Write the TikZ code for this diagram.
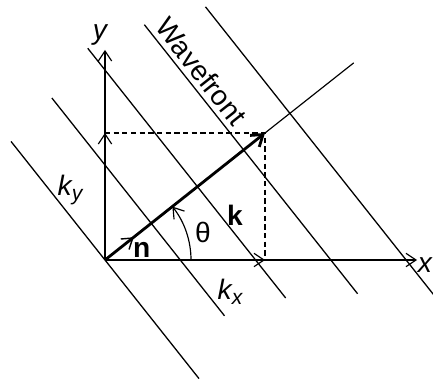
\documentclass[tikz,border=0pt]{standalone}
\usepackage{fontspec}
\setmainfont{Liberation Sans}
\usetikzlibrary{arrows.meta, positioning, calc}

\begin{document}
\begin{tikzpicture}[
    thinln/.style = {line width=0.5pt},
    barb/.style   = {-{Straight Barb[length=1.5mm,width=2mm]}},
    front/.style  = {line width=0.55pt},
    proj/.style   = {line width=0.5pt, dash pattern=on 2.2pt off 1.5pt},
    lbl/.style    = {font=\fontsize{12}{14}\selectfont, inner sep=1pt}
  ]
  \useasboundingbox (-1.575,-1.815) rectangle (4.92,3.9);

  % ----------------------------------------------------------------
  % Origin, axis ends and the wave vector k (theta = 38.4 deg)
  % ----------------------------------------------------------------
  \coordinate (O)    at (0,0);
  \coordinate (xend) at (4.68,0);
  \coordinate (yend) at (0,3.15);
  \coordinate (kx)   at (2.4,0);
  \coordinate (ky)   at (0,1.905);
  \coordinate (K)    at (2.4,1.905);
  \coordinate (kfar) at (38.4:4.76);
  \coordinate (nend) at (38.4:0.55);

  % ----------------------------------------------------------------
  % Wavefronts: lines normal to k, equally spaced along k
  % ----------------------------------------------------------------
  \begin{scope}[rotate=38.4]
    \foreach \idx/\dist/\hi/\lo in {
        1/0/2.27/-2.27,     2/0.885/2.4/-1.77,  3/1.77/2.65/-2.13,
        4/2.655/2.4/-2.75,  5/3.54/2.04/-3.48}{
      \coordinate (w\idx a) at (\dist,\hi);
      \coordinate (w\idx b) at (\dist,\lo);
    }
  \end{scope}
  \foreach \idx in {1,2,3,5}{
    \draw[front] (w\idx a) -- (w\idx b);
  }
  \draw[front] (w4a) -- (w4b)
        node[lbl, pos=0.21, sloped, above=1pt] (wlbl) {Wavefront};

  % ----------------------------------------------------------------
  % Axes and components
  % ----------------------------------------------------------------
  \draw[thinln, barb] (O) -- (xend);
  \draw[thinln, barb] (O) -- (yend);
  \draw[thinln, barb] (O) -- (kx);
  \draw[thinln, barb] (O) -- (ky);
  \draw[proj] (ky) -- (K) -- (kx);

  \node[lbl] (xlbl)  at (4.8,-0.075)   {\itshape x};
  \node[lbl] (ylbl)  at (-0.075,3.375) {\itshape y};
  \node[lbl] (kxlbl) at (1.875,-0.48)  {\itshape k\raisebox{-0.35ex}{\small x}};
  \node[lbl] (kylbl) at (-0.525,1.05)  {\itshape k\raisebox{-0.35ex}{\small y}};

  % ----------------------------------------------------------------
  % k vector, its extension, unit normal n and angle theta
  % ----------------------------------------------------------------
  \draw[line width=1.2pt, -{Straight Barb[length=1.6mm,width=2.2mm]}] (O) -- (K);
  \draw[thinln] (K) -- (kfar);
  \draw[line width=0.6pt, barb] (O) -- (nend);
  \draw[thinln, barb] (1.29,0) arc[start angle=0, end angle=38.4, radius=1.29];

  \node[lbl] (klbl) at (1.95,0.675) {\bfseries k};
  \node[lbl] (nlbl) at (0.55,0.15)  {\bfseries n};
  \node[lbl] (tlbl) at (1.47,0.42)  {θ};

\end{tikzpicture}
\end{document}
